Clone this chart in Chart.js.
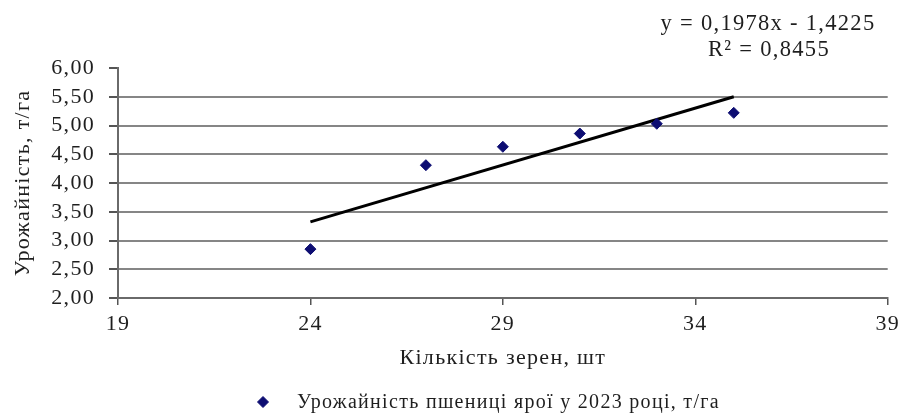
<!DOCTYPE html>
<html>
<head>
<meta charset="utf-8">
<script src="https://cdn.jsdelivr.net/npm/chart.js@4.4.1/dist/chart.umd.min.js"></script>
<style>
  html, body { margin: 0; padding: 0; background: #ffffff; }
  #wrap { width: 906px; height: 417px; position: relative; }
</style>
</head>
<body>
<div id="wrap"><canvas id="chart" width="906" height="417"></canvas></div>
<script>
// Кількість зерен у колосі, шт
const grainCount = [24, 27, 29, 31, 33, 35];
// Урожайність пшениці ярої у 2023 році, т/га
const yieldValues = [2.85, 4.31, 4.63, 4.86, 5.03, 5.22];
// Лінійний тренд: y = slope * x + intercept
const trendSlope = 0.1978;
const trendIntercept = -1.4225;
const trendR2 = 0.8455;

const seriesLabel = 'Урожайність пшениці ярої у 2023 році, т/га';
const xTitle = 'Кількість зерен, шт';
const yTitle = 'Урожайність, т/га';

const serif = "'Liberation Serif', 'Times New Roman', serif";
const textColor = '#1e1e1e';
const gridColor = '#868686';
const markerColor = '#0d0d72';
const spacing = '1.3px';

const fmt = (v, d) => v.toFixed(d).replace('.', ',');

const scatterPoints = grainCount.map((x, i) => ({ x, y: yieldValues[i] }));
const xMin = Math.min(...grainCount), xMax = Math.max(...grainCount);
const trendPoints = [xMin, xMax].map(x => ({ x, y: trendSlope * x + trendIntercept }));

const equationText = [
  'y = ' + fmt(trendSlope, 4) + 'x - ' + fmt(Math.abs(trendIntercept), 4),
  'R\u00B2 = ' + fmt(trendR2, 4)
];

// Wider tracking for all text drawn on the canvas
const trackingPlugin = {
  id: 'tracking',
  beforeUpdate(chart) { chart.ctx.letterSpacing = spacing; },
  beforeLayout(chart) { chart.ctx.letterSpacing = spacing; },
  beforeDraw(chart) { chart.ctx.letterSpacing = spacing; }
};

// Trend equation block above the plot
const equationPlugin = {
  id: 'equation',
  afterDraw(chart) {
    const ctx = chart.ctx;
    ctx.save();
    ctx.letterSpacing = spacing;
    ctx.font = '22.5px ' + serif;
    ctx.fillStyle = textColor;
    ctx.textAlign = 'center';
    ctx.textBaseline = 'middle';
    ctx.fillText(equationText[0], 768, 24);
    ctx.fillText(equationText[1], 769, 50);
    ctx.restore();
  }
};

// Legend row with the scatter marker
const legendPlugin = {
  id: 'bottomLegend',
  afterDraw(chart) {
    const ctx = chart.ctx;
    const ds = chart.data.datasets[0];
    ctx.save();
    ctx.fillStyle = ds.backgroundColor;
    ctx.strokeStyle = ds.borderColor;
    Chart.helpers.drawPoint(ctx, { pointStyle: ds.pointStyle, radius: ds.pointRadius, borderWidth: 1, rotation: 0 }, 263, 402);
    ctx.letterSpacing = spacing;
    ctx.font = '20px ' + serif;
    ctx.fillStyle = textColor;
    ctx.textAlign = 'left';
    ctx.textBaseline = 'middle';
    ctx.fillText(ds.label, 297, 403);
    ctx.restore();
  }
};

new Chart(document.getElementById('chart'), {
  type: 'scatter',
  data: {
    datasets: [
      {
        label: seriesLabel,
        data: scatterPoints,
        pointStyle: 'rectRot',
        pointRadius: 5.5,
        backgroundColor: markerColor,
        borderColor: markerColor,
        borderWidth: 1
      },
      {
        type: 'line',
        label: 'Лінійний тренд',
        data: trendPoints,
        borderColor: '#000000',
        borderWidth: 3,
        pointRadius: 0,
        fill: false
      }
    ]
  },
  options: {
    responsive: false,
    animation: false,
    devicePixelRatio: 1,
    layout: { padding: { left: 0, right: 16, top: 68, bottom: 44 } },
    plugins: {
      legend: { display: false },
      tooltip: { enabled: false }
    },
    scales: {
      x: {
        type: 'linear',
        min: 19,
        max: 39,
        afterFit(scale) { scale.height = 75; },
        ticks: {
          stepSize: 5,
          autoSkip: false,
          color: textColor,
          font: { family: serif, size: 22 },
          padding: 6,
          maxRotation: 0
        },
        grid: {
          drawOnChartArea: false,
          drawTicks: true,
          tickLength: 7,
          tickColor: '#555555',
          lineWidth: 1.5
        },
        border: { display: true, color: '#6a6a6a', width: 2 },
        title: {
          display: true,
          text: xTitle,
          color: textColor,
          font: { family: serif, size: 22 },
          padding: { top: 0, bottom: 2 }
        }
      },
      y: {
        min: 2,
        max: 6,
        afterFit(scale) { scale.width = 118; },
        ticks: {
          stepSize: 0.5,
          autoSkip: false,
          color: textColor,
          font: { family: serif, size: 22, lineHeight: 1 },
          padding: 14,
          callback: v => fmt(v, 2)
        },
        grid: {
          color: ctx => (ctx.tick && ctx.tick.value === 6 ? 'rgba(0,0,0,0)' : gridColor),
          tickColor: '#555555',
          lineWidth: 2,
          drawTicks: true,
          tickLength: 9
        },
        border: { display: true, color: '#6a6a6a', width: 2 },
        title: {
          display: true,
          text: yTitle,
          color: textColor,
          font: { family: serif, size: 22 },
          padding: { top: 10, bottom: 0 }
        }
      }
    }
  },
  plugins: [trackingPlugin, equationPlugin, legendPlugin]
});
</script>
</body>
</html>
